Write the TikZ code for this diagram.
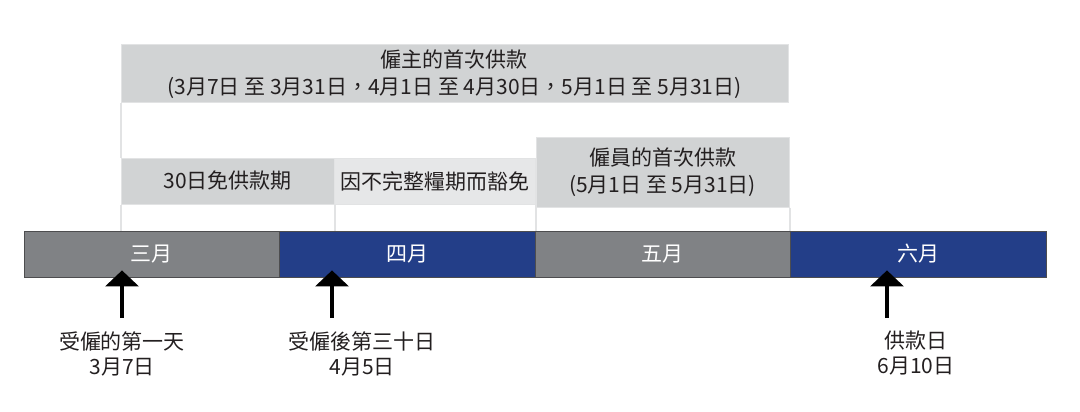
\documentclass[tikz,border=0pt]{standalone}
\usepackage{fontspec}
\setmainfont{Noto Sans CJK TC}
\usetikzlibrary{arrows.meta}
\definecolor{hdrgray}{HTML}{D1D3D4}
\definecolor{hdrlight}{HTML}{E6E7E8}
\definecolor{edgegray}{HTML}{E2E3E4}
\definecolor{mgray}{HTML}{808285}
\definecolor{mblue}{HTML}{233E88}
\definecolor{barline}{HTML}{4D4D4F}
\definecolor{ink}{HTML}{231F20}
\begin{document}
\begin{tikzpicture}[x=1pt,y=-1pt,
		txt/.style={font=\fontsize{21}{27}\selectfont,text=ink,align=center,inner sep=0pt},
		header/.style={txt,draw=edgegray,line width=1pt,fill=hdrgray},
		month/.style={txt,text=white,draw=barline,line width=.8pt,
			minimum width=255.5pt,minimum height=46pt},
		period/.style={draw=edgegray,line width=2pt},
		datelabel/.style={txt,font=\fontsize{21}{25}\selectfont,anchor=north},
		uparrow/.style={line width=3.5pt,-{Triangle[width=33pt,length=16pt]}}]
	\useasboundingbox (0,0) rectangle (1080,412);
	% contribution periods
	\node[header,minimum width=667pt,minimum height=58pt] (employer) at (454.5,74)
		{僱主的首次供款\\(3月7日 至 3月31日，4月1日 至 4月30日，5月1日 至 5月31日)};
	\node[header,minimum width=213pt,minimum height=46pt] (grace) at (227.5,181)
		{30日免供款期};
	\node[header,fill=hdrlight,minimum width=201pt,minimum height=46pt] (waiver) at (434.5,181)
		{因不完整糧期而豁免};
	\node[header,minimum width=253pt,minimum height=70pt] (employee) at (662.5,172)
		{僱員的首次供款\\(5月1日 至 5月31日)};
	% months
	\node[month,fill=mgray] (mar) at (151.75,254) {三月};
	\node[month,fill=mblue] (apr) at (407.25,254) {四月};
	\node[month,fill=mgray] (may) at (662.75,254) {五月};
	\node[month,fill=mblue] (jun) at (918.25,254) {六月};
	\draw[period] (employer.south west) -- (grace.north west);
	\draw[period] (grace.south west) -- (grace.south west |- mar.north);
	\draw[period] (grace.south east) -- (grace.south east |- mar.north);
	\draw[period] (waiver.south east) -- (waiver.south east |- mar.north);
	\draw[period] (employee.south west) -- (employee.south west |- may.north);
	\draw[period] (employee.south east) -- (employee.south east |- may.north);
	% key dates
	\node[datelabel] (firstday) at (122,331) {受僱的第一天\\3月7日};
	\node[datelabel] (thirtieth) at (362,331) {受僱後第三十日\\4月5日};
	\node[datelabel] (payday) at (916,331) {供款日\\6月10日};
	\coordinate (t1) at (122,318);
	\coordinate (t2) at (332,318);
	\coordinate (t3) at (887,318);
	\draw[uparrow] (t1) -- ([yshift=7pt]t1 |- mar.south);
	\draw[uparrow] (t2) -- ([yshift=7pt]t2 |- apr.south);
	\draw[uparrow] (t3) -- ([yshift=7pt]t3 |- jun.south);
\end{tikzpicture}
\end{document}
